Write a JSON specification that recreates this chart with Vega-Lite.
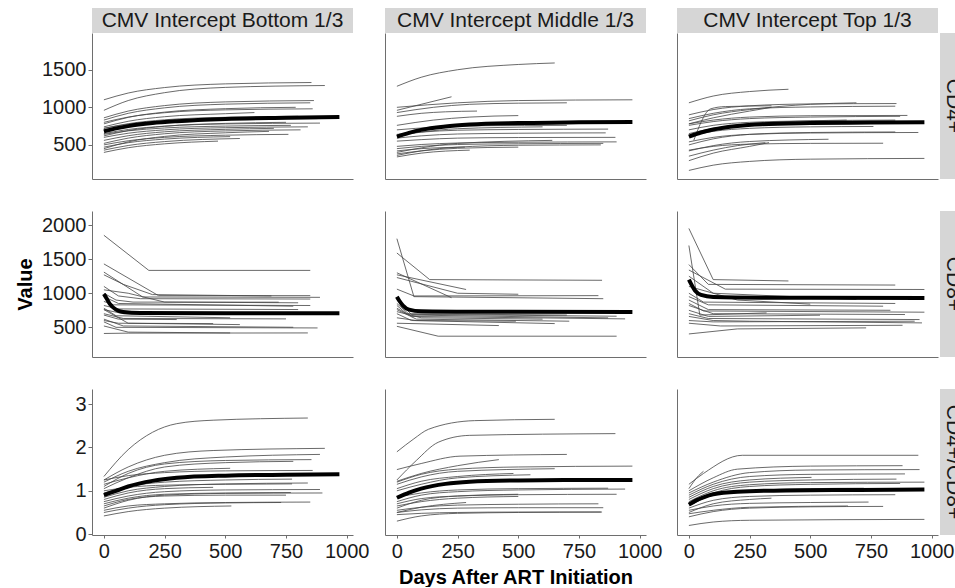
{
  "$schema": "https://vega.github.io/schema/vega-lite/v6.json",
  "autosize": {"type": "pad"},
  "padding": {"left": 15, "top": 8, "right": 0, "bottom": 0},
  "background": "white",
  "config": {
    "view": {"stroke": null},
    "axis": {
      "grid": false,
      "domainColor": "#6e6e6e",
      "domainWidth": 1,
      "tickColor": "#6e6e6e",
      "tickSize": 4,
      "labelPadding": 2,
      "labelColor": "#1a1a1a",
      "labelFont": "Liberation Sans",
      "labelFontSize": 20,
      "labelFlush": false,
      "labelOverlap": false,
      "format": "d",
      "titleFont": "Liberation Sans",
      "titleFontSize": 20,
      "titleFontWeight": "bold",
      "titleColor": "#000000",
      "titlePadding": 6
    }
  },
  "datasets": {
    "B_CD4": [
      {"id":1,"day":0,"value":1100},{"id":1,"day":100,"value":1190},{"id":1,"day":250,"value":1263},{"id":1,"day":500,"value":1312},{"id":1,"day":855,"value":1330},
      {"id":2,"day":0,"value":960},{"id":2,"day":100,"value":1090},{"id":2,"day":250,"value":1195},{"id":2,"day":500,"value":1265},{"id":2,"day":910,"value":1290},
      {"id":3,"day":0,"value":860},{"id":3,"day":100,"value":950},{"id":3,"day":250,"value":1023},{"id":3,"day":500,"value":1072},{"id":3,"day":865,"value":1090},
      {"id":4,"day":0,"value":830},{"id":4,"day":100,"value":920},{"id":4,"day":250,"value":993},{"id":4,"day":500,"value":1042},{"id":4,"day":850,"value":1060},
      {"id":5,"day":0,"value":800},{"id":5,"day":100,"value":870},{"id":5,"day":250,"value":928},{"id":5,"day":500,"value":966},{"id":5,"day":860,"value":980},
      {"id":6,"day":0,"value":780},{"id":6,"day":100,"value":866},{"id":6,"day":250,"value":936},{"id":6,"day":500,"value":982},{"id":6,"day":790,"value":1000},
      {"id":7,"day":0,"value":740},{"id":7,"day":100,"value":814},{"id":7,"day":250,"value":875},{"id":7,"day":500,"value":915},{"id":7,"day":620,"value":930},
      {"id":8,"day":0,"value":720},{"id":8,"day":100,"value":782},{"id":8,"day":250,"value":834},{"id":8,"day":500,"value":867},{"id":8,"day":800,"value":880},
      {"id":9,"day":0,"value":700},{"id":9,"day":100,"value":758},{"id":9,"day":250,"value":806},{"id":9,"day":500,"value":838},{"id":9,"day":880,"value":850},
      {"id":10,"day":0,"value":650},{"id":10,"day":100,"value":705},{"id":10,"day":250,"value":749},{"id":10,"day":500,"value":779},{"id":10,"day":890,"value":790},
      {"id":11,"day":0,"value":640},{"id":11,"day":100,"value":687},{"id":11,"day":250,"value":725},{"id":11,"day":500,"value":750},{"id":11,"day":770,"value":760},
      {"id":12,"day":0,"value":620},{"id":12,"day":100,"value":690},{"id":12,"day":250,"value":748},{"id":12,"day":500,"value":786},{"id":12,"day":750,"value":800},
      {"id":13,"day":0,"value":600},{"id":13,"day":100,"value":655},{"id":13,"day":250,"value":700},{"id":13,"day":500,"value":729},{"id":13,"day":840,"value":740},
      {"id":14,"day":0,"value":560},{"id":14,"day":100,"value":622},{"id":14,"day":250,"value":674},{"id":14,"day":500,"value":707},{"id":14,"day":700,"value":720},
      {"id":15,"day":0,"value":520},{"id":15,"day":100,"value":590},{"id":15,"day":250,"value":648},{"id":15,"day":500,"value":686},{"id":15,"day":810,"value":700},
      {"id":16,"day":0,"value":500},{"id":16,"day":100,"value":555},{"id":16,"day":250,"value":600},{"id":16,"day":500,"value":629},{"id":16,"day":760,"value":640},
      {"id":17,"day":0,"value":470},{"id":17,"day":100,"value":529},{"id":17,"day":250,"value":577},{"id":17,"day":520,"value":610},
      {"id":18,"day":0,"value":430},{"id":18,"day":100,"value":492},{"id":18,"day":250,"value":544},{"id":18,"day":560,"value":585},
      {"id":19,"day":0,"value":400},{"id":19,"day":100,"value":462},{"id":19,"day":250,"value":514},{"id":19,"day":470,"value":550},
      {"id":20,"day":0,"value":450},{"id":20,"day":100,"value":540},{"id":20,"day":250,"value":613},{"id":20,"day":500,"value":661},{"id":20,"day":680,"value":680},
      {"id":21,"day":0,"value":720},{"id":21,"day":100,"value":775},{"id":21,"day":250,"value":819},{"id":21,"day":500,"value":849},{"id":21,"day":650,"value":858}
    ],
    "B_CD4_mean": [
      {"day":0,"value":680},{"day":50,"value":720},{"day":100,"value":750},{"day":200,"value":790},{"day":300,"value":815},{"day":500,"value":845},{"day":750,"value":860},{"day":970,"value":870}
    ],
    "M_CD4": [
      {"id":1,"day":0,"value":1280},{"id":1,"day":100,"value":1400},{"id":1,"day":250,"value":1500},{"id":1,"day":500,"value":1570},{"id":1,"day":650,"value":1590},
      {"id":2,"day":0,"value":960},{"id":2,"day":100,"value":1040},{"id":2,"day":225,"value":1140},
      {"id":3,"day":0,"value":1000},{"id":3,"day":250,"value":1060},{"id":3,"day":500,"value":1090},{"id":3,"day":970,"value":1100},
      {"id":4,"day":0,"value":930},{"id":4,"day":150,"value":1000},{"id":4,"day":300,"value":1040},{"id":4,"day":500,"value":1055},{"id":4,"day":700,"value":1060},
      {"id":5,"day":0,"value":880},{"id":5,"day":100,"value":920},{"id":5,"day":200,"value":940},{"id":5,"day":330,"value":950},
      {"id":6,"day":0,"value":760},{"id":6,"day":150,"value":830},{"id":6,"day":300,"value":870},{"id":6,"day":500,"value":890},
      {"id":7,"day":0,"value":640},{"id":7,"day":100,"value":670},{"id":7,"day":250,"value":695},{"id":7,"day":500,"value":705},{"id":7,"day":870,"value":710},
      {"id":8,"day":0,"value":590},{"id":8,"day":100,"value":620},{"id":8,"day":250,"value":645},{"id":8,"day":500,"value":655},{"id":8,"day":860,"value":660},
      {"id":9,"day":0,"value":550},{"id":9,"day":100,"value":570},{"id":9,"day":250,"value":590},{"id":9,"day":500,"value":598},{"id":9,"day":900,"value":600},
      {"id":10,"day":0,"value":480},{"id":10,"day":100,"value":505},{"id":10,"day":250,"value":525},{"id":10,"day":500,"value":535},{"id":10,"day":905,"value":540},
      {"id":11,"day":0,"value":450},{"id":11,"day":100,"value":480},{"id":11,"day":250,"value":505},{"id":11,"day":500,"value":515},{"id":11,"day":850,"value":520},
      {"id":12,"day":0,"value":420},{"id":12,"day":100,"value":450},{"id":12,"day":280,"value":470},
      {"id":13,"day":0,"value":380},{"id":13,"day":100,"value":420},{"id":13,"day":250,"value":455},{"id":13,"day":500,"value":470},
      {"id":14,"day":0,"value":340},{"id":14,"day":100,"value":390},{"id":14,"day":300,"value":430},
      {"id":15,"day":0,"value":700},{"id":15,"day":150,"value":735},{"id":15,"day":350,"value":755},{"id":15,"day":700,"value":760},
      {"id":16,"day":0,"value":620},{"id":16,"day":100,"value":670},{"id":16,"day":250,"value":715},{"id":16,"day":600,"value":740},
      {"id":17,"day":0,"value":400},{"id":17,"day":100,"value":460},{"id":17,"day":250,"value":520},{"id":17,"day":640,"value":560},
      {"id":18,"day":0,"value":360},{"id":18,"day":100,"value":420},{"id":18,"day":250,"value":470},{"id":18,"day":500,"value":495},{"id":18,"day":840,"value":500}
    ],
    "M_CD4_mean": [
      {"day":0,"value":610},{"day":50,"value":660},{"day":100,"value":700},{"day":200,"value":745},{"day":300,"value":770},{"day":500,"value":790},{"day":750,"value":800},{"day":970,"value":805}
    ],
    "T_CD4": [
      {"id":1,"day":0,"value":1060},{"id":1,"day":100,"value":1150},{"id":1,"day":250,"value":1210},{"id":1,"day":410,"value":1240},
      {"id":2,"day":0,"value":900},{"id":2,"day":100,"value":970},{"id":2,"day":250,"value":1020},{"id":2,"day":500,"value":1045},{"id":2,"day":855,"value":1050},
      {"id":3,"day":0,"value":850},{"id":3,"day":100,"value":920},{"id":3,"day":250,"value":980},{"id":3,"day":500,"value":1005},{"id":3,"day":850,"value":1015},
      {"id":4,"day":20,"value":560},{"id":4,"day":90,"value":980},{"id":4,"day":150,"value":1010},{"id":4,"day":340,"value":1020},
      {"id":5,"day":0,"value":820},{"id":5,"day":100,"value":900},{"id":5,"day":250,"value":970},{"id":5,"day":500,"value":1040},{"id":5,"day":690,"value":1060},
      {"id":6,"day":0,"value":780},{"id":6,"day":100,"value":860},{"id":6,"day":250,"value":950},{"id":6,"day":340,"value":1000},
      {"id":7,"day":0,"value":780},{"id":7,"day":100,"value":830},{"id":7,"day":250,"value":870},{"id":7,"day":500,"value":888},{"id":7,"day":900,"value":892},
      {"id":8,"day":0,"value":760},{"id":8,"day":100,"value":810},{"id":8,"day":250,"value":850},{"id":8,"day":500,"value":870},{"id":8,"day":870,"value":880},
      {"id":9,"day":0,"value":700},{"id":9,"day":100,"value":760},{"id":9,"day":250,"value":800},{"id":9,"day":500,"value":820},{"id":9,"day":850,"value":830},
      {"id":10,"day":0,"value":650},{"id":10,"day":100,"value":720},{"id":10,"day":250,"value":780},{"id":10,"day":500,"value":820},{"id":10,"day":650,"value":830},
      {"id":11,"day":0,"value":540},{"id":11,"day":100,"value":600},{"id":11,"day":250,"value":640},{"id":11,"day":500,"value":658},{"id":11,"day":945,"value":665},
      {"id":12,"day":0,"value":500},{"id":12,"day":100,"value":580},{"id":12,"day":250,"value":640},{"id":12,"day":500,"value":665},{"id":12,"day":850,"value":672},
      {"id":13,"day":0,"value":430},{"id":13,"day":100,"value":480},{"id":13,"day":250,"value":510},{"id":13,"day":500,"value":520},{"id":13,"day":800,"value":522},
      {"id":14,"day":0,"value":420},{"id":14,"day":100,"value":490},{"id":14,"day":250,"value":545},{"id":14,"day":575,"value":575},
      {"id":15,"day":0,"value":350},{"id":15,"day":100,"value":430},{"id":15,"day":200,"value":490},{"id":15,"day":315,"value":530},
      {"id":16,"day":0,"value":290},{"id":16,"day":100,"value":390},{"id":16,"day":250,"value":480},{"id":16,"day":330,"value":530},
      {"id":17,"day":0,"value":160},{"id":17,"day":100,"value":230},{"id":17,"day":250,"value":280},{"id":17,"day":500,"value":310},{"id":17,"day":970,"value":320},
      {"id":18,"day":0,"value":620},{"id":18,"day":100,"value":680},{"id":18,"day":250,"value":720},{"id":18,"day":500,"value":740},{"id":18,"day":760,"value":745}
    ],
    "T_CD4_mean": [
      {"day":0,"value":610},{"day":50,"value":665},{"day":100,"value":705},{"day":200,"value":752},{"day":300,"value":775},{"day":500,"value":790},{"day":750,"value":797},{"day":970,"value":800}
    ],
    "B_CD8": [
      {"id":1,"day":0,"value":1850},{"id":1,"day":185,"value":1335},{"id":1,"day":850,"value":1335},
      {"id":2,"day":0,"value":1430},{"id":2,"day":225,"value":965},{"id":2,"day":850,"value":965},
      {"id":3,"day":0,"value":1310},{"id":3,"day":160,"value":945},{"id":3,"day":890,"value":940},
      {"id":4,"day":0,"value":1270},{"id":4,"day":80,"value":1130},{"id":4,"day":200,"value":980},{"id":4,"day":690,"value":960},
      {"id":5,"day":0,"value":1100},{"id":5,"day":60,"value":960},{"id":5,"day":150,"value":920},{"id":5,"day":850,"value":915},
      {"id":6,"day":0,"value":1000},{"id":6,"day":50,"value":900},{"id":6,"day":120,"value":870},{"id":6,"day":720,"value":869},
      {"id":7,"day":0,"value":950},{"id":7,"day":60,"value":850},{"id":7,"day":780,"value":810},
      {"id":8,"day":0,"value":880},{"id":8,"day":40,"value":830},{"id":8,"day":850,"value":820},
      {"id":9,"day":0,"value":820},{"id":9,"day":60,"value":770},{"id":9,"day":800,"value":761},
      {"id":10,"day":0,"value":760},{"id":10,"day":80,"value":700},{"id":10,"day":920,"value":688},
      {"id":11,"day":0,"value":780},{"id":11,"day":50,"value":670},{"id":11,"day":520,"value":640},
      {"id":12,"day":0,"value":700},{"id":12,"day":80,"value":630},{"id":12,"day":750,"value":624},
      {"id":13,"day":0,"value":600},{"id":13,"day":60,"value":560},{"id":13,"day":450,"value":555},
      {"id":14,"day":0,"value":760},{"id":14,"day":100,"value":560},{"id":14,"day":560,"value":540},
      {"id":15,"day":0,"value":580},{"id":15,"day":50,"value":500},{"id":15,"day":880,"value":491},
      {"id":16,"day":0,"value":620},{"id":16,"day":80,"value":520},{"id":16,"day":780,"value":501},
      {"id":17,"day":0,"value":520},{"id":17,"day":100,"value":430},{"id":17,"day":520,"value":418},
      {"id":18,"day":0,"value":410},{"id":18,"day":100,"value":415},{"id":18,"day":840,"value":418},
      {"id":19,"day":0,"value":680},{"id":19,"day":60,"value":620},{"id":19,"day":300,"value":614},
      {"id":20,"day":0,"value":1050},{"id":20,"day":100,"value":1000},{"id":20,"day":250,"value":870},{"id":20,"day":800,"value":860}
    ],
    "B_CD8_mean": [
      {"day":0,"value":990},{"day":10,"value":930},{"day":25,"value":840},{"day":50,"value":760},{"day":80,"value":725},{"day":150,"value":710},{"day":500,"value":705},{"day":970,"value":705}
    ],
    "M_CD8": [
      {"id":1,"day":0,"value":1800},{"id":1,"day":70,"value":950},{"id":1,"day":850,"value":920},
      {"id":2,"day":0,"value":1590},{"id":2,"day":135,"value":1200},{"id":2,"day":845,"value":1190},
      {"id":3,"day":0,"value":1300},{"id":3,"day":225,"value":935},
      {"id":4,"day":0,"value":1270},{"id":4,"day":285,"value":1055},
      {"id":5,"day":0,"value":1230},{"id":5,"day":250,"value":1000},{"id":5,"day":500,"value":985},
      {"id":6,"day":0,"value":1060},{"id":6,"day":70,"value":960},{"id":6,"day":830,"value":965},
      {"id":7,"day":0,"value":900},{"id":7,"day":60,"value":690},{"id":7,"day":905,"value":663},
      {"id":8,"day":0,"value":850},{"id":8,"day":60,"value":660},{"id":8,"day":940,"value":624},
      {"id":9,"day":0,"value":780},{"id":9,"day":50,"value":680},{"id":9,"day":870,"value":639},
      {"id":10,"day":0,"value":760},{"id":10,"day":80,"value":620},{"id":10,"day":710,"value":590},
      {"id":11,"day":0,"value":700},{"id":11,"day":60,"value":600},{"id":11,"day":650,"value":555},
      {"id":12,"day":0,"value":560},{"id":12,"day":420,"value":526},
      {"id":13,"day":0,"value":640},{"id":13,"day":80,"value":600},{"id":13,"day":490,"value":590},
      {"id":14,"day":0,"value":515},{"id":14,"day":170,"value":370},{"id":14,"day":905,"value":370},
      {"id":15,"day":0,"value":820},{"id":15,"day":40,"value":700},{"id":15,"day":700,"value":680},
      {"id":16,"day":0,"value":730},{"id":16,"day":100,"value":640},{"id":16,"day":600,"value":620}
    ],
    "M_CD8_mean": [
      {"day":0,"value":950},{"day":10,"value":890},{"day":25,"value":820},{"day":50,"value":760},{"day":100,"value":735},{"day":300,"value":728},{"day":970,"value":725}
    ],
    "T_CD8": [
      {"id":1,"day":0,"value":1950},{"id":1,"day":100,"value":1200},{"id":1,"day":410,"value":1180},
      {"id":2,"day":0,"value":1700},{"id":2,"day":45,"value":680},{"id":2,"day":320,"value":712},
      {"id":3,"day":0,"value":1420},{"id":3,"day":80,"value":1130},{"id":3,"day":850,"value":1120},
      {"id":4,"day":0,"value":1340},{"id":4,"day":150,"value":1060},{"id":4,"day":970,"value":1055},
      {"id":5,"day":0,"value":1250},{"id":5,"day":100,"value":1000},{"id":5,"day":690,"value":910},
      {"id":6,"day":0,"value":1100},{"id":6,"day":200,"value":900},{"id":6,"day":500,"value":840},
      {"id":7,"day":0,"value":1000},{"id":7,"day":60,"value":870},{"id":7,"day":850,"value":850},
      {"id":8,"day":0,"value":950},{"id":8,"day":80,"value":830},{"id":8,"day":800,"value":810},
      {"id":9,"day":0,"value":900},{"id":9,"day":80,"value":760},{"id":9,"day":830,"value":750},
      {"id":10,"day":0,"value":850},{"id":10,"day":60,"value":740},{"id":10,"day":970,"value":722},
      {"id":11,"day":0,"value":820},{"id":11,"day":100,"value":700},{"id":11,"day":890,"value":688},
      {"id":12,"day":0,"value":750},{"id":12,"day":80,"value":660},{"id":12,"day":540,"value":678},
      {"id":13,"day":0,"value":700},{"id":13,"day":80,"value":630},{"id":13,"day":950,"value":614},
      {"id":14,"day":0,"value":660},{"id":14,"day":100,"value":600},{"id":14,"day":250,"value":590},{"id":14,"day":960,"value":565},
      {"id":15,"day":0,"value":403},{"id":15,"day":200,"value":477},{"id":15,"day":730,"value":492},
      {"id":16,"day":0,"value":600},{"id":16,"day":100,"value":580},{"id":16,"day":930,"value":590},
      {"id":17,"day":0,"value":560},{"id":17,"day":130,"value":520},{"id":17,"day":880,"value":530}
    ],
    "T_CD8_mean": [
      {"day":0,"value":1200},{"day":10,"value":1130},{"day":25,"value":1040},{"day":50,"value":975},{"day":100,"value":945},{"day":300,"value":935},{"day":970,"value":930}
    ],
    "B_R": [
      {"id":1,"day":0,"value":1.33},{"id":1,"day":100,"value":1.95},{"id":1,"day":200,"value":2.35},{"id":1,"day":300,"value":2.55},{"id":1,"day":450,"value":2.63},{"id":1,"day":840,"value":2.68},
      {"id":2,"day":0,"value":1.25},{"id":2,"day":100,"value":1.55},{"id":2,"day":250,"value":1.82},{"id":2,"day":450,"value":1.93},{"id":2,"day":910,"value":1.98},
      {"id":3,"day":0,"value":1.2},{"id":3,"day":100,"value":1.45},{"id":3,"day":250,"value":1.65},{"id":3,"day":500,"value":1.78},{"id":3,"day":890,"value":1.84},
      {"id":4,"day":0,"value":1.1},{"id":4,"day":100,"value":1.4},{"id":4,"day":250,"value":1.62},{"id":4,"day":500,"value":1.7},{"id":4,"day":855,"value":1.72},
      {"id":5,"day":0,"value":1.05},{"id":5,"day":100,"value":1.3},{"id":5,"day":250,"value":1.55},{"id":5,"day":500,"value":1.65},{"id":5,"day":780,"value":1.68},
      {"id":6,"day":0,"value":1.15},{"id":6,"day":100,"value":1.3},{"id":6,"day":250,"value":1.45},{"id":6,"day":520,"value":1.52},
      {"id":7,"day":0,"value":1.25},{"id":7,"day":100,"value":1.35},{"id":7,"day":250,"value":1.42},{"id":7,"day":500,"value":1.46},{"id":7,"day":860,"value":1.47},
      {"id":8,"day":0,"value":0.95},{"id":8,"day":100,"value":1.1},{"id":8,"day":250,"value":1.2},{"id":8,"day":500,"value":1.25},{"id":8,"day":775,"value":1.27},
      {"id":9,"day":0,"value":0.85},{"id":9,"day":100,"value":1.0},{"id":9,"day":250,"value":1.1},{"id":9,"day":500,"value":1.16},{"id":9,"day":840,"value":1.18},
      {"id":10,"day":0,"value":1.0},{"id":10,"day":100,"value":1.08},{"id":10,"day":250,"value":1.13},{"id":10,"day":500,"value":1.15},{"id":10,"day":775,"value":1.16},
      {"id":11,"day":0,"value":0.75},{"id":11,"day":100,"value":0.88},{"id":11,"day":250,"value":0.98},{"id":11,"day":500,"value":1.02},{"id":11,"day":890,"value":1.03},
      {"id":12,"day":0,"value":0.8},{"id":12,"day":100,"value":0.95},{"id":12,"day":250,"value":1.05},{"id":12,"day":450,"value":1.08},
      {"id":13,"day":0,"value":0.7},{"id":13,"day":100,"value":0.83},{"id":13,"day":250,"value":0.92},{"id":13,"day":500,"value":0.95},{"id":13,"day":770,"value":0.96},
      {"id":14,"day":0,"value":0.6},{"id":14,"day":100,"value":0.78},{"id":14,"day":250,"value":0.9},{"id":14,"day":500,"value":0.94},{"id":14,"day":900,"value":0.95},
      {"id":15,"day":0,"value":0.5},{"id":15,"day":100,"value":0.6},{"id":15,"day":250,"value":0.68},{"id":15,"day":500,"value":0.72},{"id":15,"day":730,"value":0.73},
      {"id":16,"day":0,"value":0.55},{"id":16,"day":100,"value":0.65},{"id":16,"day":250,"value":0.7},{"id":16,"day":500,"value":0.73},{"id":16,"day":850,"value":0.74},
      {"id":17,"day":0,"value":0.42},{"id":17,"day":100,"value":0.52},{"id":17,"day":250,"value":0.6},{"id":17,"day":525,"value":0.65},
      {"id":18,"day":0,"value":0.65},{"id":18,"day":100,"value":0.8},{"id":18,"day":250,"value":0.88},{"id":18,"day":500,"value":0.9},{"id":18,"day":750,"value":0.9}
    ],
    "B_R_mean": [
      {"day":0,"value":0.9},{"day":50,"value":1.0},{"day":100,"value":1.1},{"day":200,"value":1.23},{"day":300,"value":1.3},{"day":500,"value":1.35},{"day":750,"value":1.37},{"day":970,"value":1.38}
    ],
    "M_R": [
      {"id":1,"day":0,"value":1.9},{"id":1,"day":70,"value":2.2},{"id":1,"day":130,"value":2.42},{"id":1,"day":320,"value":2.62},{"id":1,"day":650,"value":2.65},
      {"id":2,"day":0,"value":1.25},{"id":2,"day":80,"value":1.7},{"id":2,"day":170,"value":2.12},{"id":2,"day":300,"value":2.28},{"id":2,"day":900,"value":2.32},
      {"id":3,"day":0,"value":1.49},{"id":3,"day":100,"value":1.63},{"id":3,"day":260,"value":1.8},{"id":3,"day":700,"value":1.84},
      {"id":4,"day":0,"value":1.22},{"id":4,"day":100,"value":1.4},{"id":4,"day":250,"value":1.58},{"id":4,"day":420,"value":1.72},
      {"id":5,"day":0,"value":1.2},{"id":5,"day":100,"value":1.38},{"id":5,"day":250,"value":1.5},{"id":5,"day":500,"value":1.55},{"id":5,"day":970,"value":1.57},
      {"id":6,"day":0,"value":1.15},{"id":6,"day":100,"value":1.32},{"id":6,"day":250,"value":1.45},{"id":6,"day":650,"value":1.51},
      {"id":7,"day":0,"value":1.05},{"id":7,"day":100,"value":1.22},{"id":7,"day":250,"value":1.33},{"id":7,"day":480,"value":1.4},
      {"id":8,"day":0,"value":1.0},{"id":8,"day":100,"value":1.15},{"id":8,"day":250,"value":1.3},{"id":8,"day":550,"value":1.37},
      {"id":9,"day":0,"value":0.85},{"id":9,"day":100,"value":0.95},{"id":9,"day":250,"value":1.02},{"id":9,"day":500,"value":1.05},{"id":9,"day":870,"value":1.06},
      {"id":10,"day":0,"value":0.75},{"id":10,"day":100,"value":0.9},{"id":10,"day":250,"value":0.98},{"id":10,"day":500,"value":1.02},{"id":10,"day":940,"value":1.04},
      {"id":11,"day":0,"value":0.7},{"id":11,"day":100,"value":0.82},{"id":11,"day":250,"value":0.88},{"id":11,"day":500,"value":0.91},{"id":11,"day":905,"value":0.92},
      {"id":12,"day":0,"value":0.65},{"id":12,"day":100,"value":0.75},{"id":12,"day":250,"value":0.83},{"id":12,"day":500,"value":0.87},
      {"id":13,"day":0,"value":0.55},{"id":13,"day":100,"value":0.62},{"id":13,"day":250,"value":0.67},{"id":13,"day":500,"value":0.69},{"id":13,"day":830,"value":0.7},
      {"id":14,"day":0,"value":0.5},{"id":14,"day":100,"value":0.56},{"id":14,"day":250,"value":0.6},{"id":14,"day":500,"value":0.61},{"id":14,"day":850,"value":0.61},
      {"id":15,"day":0,"value":0.45},{"id":15,"day":100,"value":0.48},{"id":15,"day":250,"value":0.5},{"id":15,"day":500,"value":0.51},{"id":15,"day":845,"value":0.51},
      {"id":16,"day":0,"value":0.5},{"id":16,"day":100,"value":0.62},{"id":16,"day":285,"value":0.73},
      {"id":17,"day":0,"value":0.3},{"id":17,"day":100,"value":0.42},{"id":17,"day":250,"value":0.48},{"id":17,"day":500,"value":0.5},{"id":17,"day":840,"value":0.51},
      {"id":18,"day":0,"value":0.6},{"id":18,"day":100,"value":0.78},{"id":18,"day":250,"value":0.88},{"id":18,"day":500,"value":0.92}
    ],
    "M_R_mean": [
      {"day":0,"value":0.84},{"day":50,"value":0.96},{"day":100,"value":1.05},{"day":200,"value":1.16},{"day":300,"value":1.21},{"day":500,"value":1.24},{"day":750,"value":1.25},{"day":970,"value":1.25}
    ],
    "T_R": [
      {"id":1,"day":0,"value":1.15},{"id":1,"day":60,"value":1.4},{"id":1,"day":220,"value":1.82},{"id":1,"day":945,"value":1.82},
      {"id":2,"day":0,"value":1.0},{"id":2,"day":100,"value":1.3},{"id":2,"day":200,"value":1.5},{"id":2,"day":500,"value":1.57},{"id":2,"day":880,"value":1.58},
      {"id":3,"day":0,"value":0.95},{"id":3,"day":100,"value":1.2},{"id":3,"day":250,"value":1.42},{"id":3,"day":500,"value":1.48},{"id":3,"day":950,"value":1.49},
      {"id":4,"day":0,"value":0.9},{"id":4,"day":100,"value":1.15},{"id":4,"day":250,"value":1.33},{"id":4,"day":500,"value":1.38},{"id":4,"day":890,"value":1.39},
      {"id":5,"day":0,"value":0.85},{"id":5,"day":100,"value":1.1},{"id":5,"day":250,"value":1.25},{"id":5,"day":505,"value":1.31},
      {"id":6,"day":0,"value":0.8},{"id":6,"day":100,"value":1.05},{"id":6,"day":250,"value":1.2},{"id":6,"day":500,"value":1.25},{"id":6,"day":855,"value":1.27},
      {"id":7,"day":0,"value":0.75},{"id":7,"day":100,"value":1.0},{"id":7,"day":250,"value":1.14},{"id":7,"day":500,"value":1.19},{"id":7,"day":970,"value":1.2},
      {"id":8,"day":0,"value":0.7},{"id":8,"day":100,"value":0.95},{"id":8,"day":250,"value":1.1},{"id":8,"day":500,"value":1.15},{"id":8,"day":870,"value":1.17},
      {"id":9,"day":0,"value":0.6},{"id":9,"day":100,"value":0.78},{"id":9,"day":250,"value":0.87},{"id":9,"day":500,"value":0.9},{"id":9,"day":850,"value":0.91},
      {"id":10,"day":0,"value":0.5},{"id":10,"day":100,"value":0.7},{"id":10,"day":250,"value":0.8},{"id":10,"day":340,"value":0.83},
      {"id":11,"day":0,"value":0.55},{"id":11,"day":100,"value":0.65},{"id":11,"day":250,"value":0.71},{"id":11,"day":500,"value":0.73},{"id":11,"day":740,"value":0.74},
      {"id":12,"day":0,"value":0.47},{"id":12,"day":100,"value":0.55},{"id":12,"day":250,"value":0.62},{"id":12,"day":655,"value":0.65},
      {"id":13,"day":0,"value":0.4},{"id":13,"day":100,"value":0.52},{"id":13,"day":250,"value":0.6},{"id":13,"day":500,"value":0.63},{"id":13,"day":800,"value":0.64},
      {"id":14,"day":0,"value":0.2},{"id":14,"day":100,"value":0.28},{"id":14,"day":250,"value":0.32},{"id":14,"day":970,"value":0.34},
      {"id":15,"day":0,"value":1.05},{"id":15,"day":40,"value":1.35},{"id":15,"day":60,"value":1.45},
      {"id":16,"day":0,"value":0.65},{"id":16,"day":100,"value":0.9},{"id":16,"day":250,"value":1.0},{"id":16,"day":500,"value":1.05},{"id":16,"day":720,"value":1.06}
    ],
    "T_R_mean": [
      {"day":0,"value":0.68},{"day":30,"value":0.78},{"day":60,"value":0.85},{"day":100,"value":0.92},{"day":200,"value":0.98},{"day":400,"value":1.01},{"day":700,"value":1.02},{"day":970,"value":1.03}
    ]
  },
  "concat": [
    {"width":261,"height":25,"view":{"fill":"#d6d6d6"},"data":{"values":[{"label":"CMV Intercept Bottom 1/3"}]},"mark":{"type":"text","font":"Liberation Sans","fontSize":21,"color":"#1a1a1a"},"encoding":{"text":{"field":"label","type":"nominal"}}},
    {"width":32,"height":1,"data":{"values":[]},"mark":"point"},
    {"width":261,"height":25,"view":{"fill":"#d6d6d6"},"data":{"values":[{"label":"CMV Intercept Middle 1/3"}]},"mark":{"type":"text","font":"Liberation Sans","fontSize":21,"color":"#1a1a1a"},"encoding":{"text":{"field":"label","type":"nominal"}}},
    {"width":31,"height":1,"data":{"values":[]},"mark":"point"},
    {"width":261,"height":25,"view":{"fill":"#d6d6d6"},"data":{"values":[{"label":"CMV Intercept Top 1/3"}]},"mark":{"type":"text","font":"Liberation Sans","fontSize":21,"color":"#1a1a1a"},"encoding":{"text":{"field":"label","type":"nominal"}}},
    {"width":2,"height":1,"data":{"values":[]},"mark":"point"},
    {"width":1,"height":1,"data":{"values":[]},"mark":"point"},

    {"width":261,"height":146,
     "encoding":{"x":{"field":"day","type":"quantitative","scale":{"domain":[-49,1026],"nice":false,"zero":false},"axis":{"labels":false,"ticks":false,"title":null}},
                 "y":{"field":"value","type":"quantitative","scale":{"domain":[46,1989],"nice":false,"zero":false},"axis":{"values":[500,1000,1500],"title":null}}},
     "layer":[
       {"data":{"name":"B_CD4"},"mark":{"type":"line","color":"#454545","strokeWidth":1,"opacity":0.8,"interpolate":"monotone"},"encoding":{"detail":{"field":"id","type":"nominal"}}},
       {"data":{"name":"B_CD4_mean"},"mark":{"type":"line","color":"#000000","strokeWidth":4,"interpolate":"monotone"},"encoding":{}}
     ]},
    {"width":32,"height":1,"data":{"values":[]},"mark":"point"},
    {"width":261,"height":146,
     "encoding":{"x":{"field":"day","type":"quantitative","scale":{"domain":[-49,1026],"nice":false,"zero":false},"axis":{"labels":false,"ticks":false,"title":null}},
                 "y":{"field":"value","type":"quantitative","scale":{"domain":[46,1989],"nice":false,"zero":false},"axis":{"labels":false,"ticks":false,"title":null}}},
     "layer":[
       {"data":{"name":"M_CD4"},"mark":{"type":"line","color":"#454545","strokeWidth":1,"opacity":0.8,"interpolate":"monotone"},"encoding":{"detail":{"field":"id","type":"nominal"}}},
       {"data":{"name":"M_CD4_mean"},"mark":{"type":"line","color":"#000000","strokeWidth":4,"interpolate":"monotone"},"encoding":{}}
     ]},
    {"width":31,"height":1,"data":{"values":[]},"mark":"point"},
    {"width":261,"height":146,
     "encoding":{"x":{"field":"day","type":"quantitative","scale":{"domain":[-49,1026],"nice":false,"zero":false},"axis":{"labels":false,"ticks":false,"title":null}},
                 "y":{"field":"value","type":"quantitative","scale":{"domain":[46,1989],"nice":false,"zero":false},"axis":{"labels":false,"ticks":false,"title":null}}},
     "layer":[
       {"data":{"name":"T_CD4"},"mark":{"type":"line","color":"#454545","strokeWidth":1,"opacity":0.8,"interpolate":"monotone"},"encoding":{"detail":{"field":"id","type":"nominal"}}},
       {"data":{"name":"T_CD4_mean"},"mark":{"type":"line","color":"#000000","strokeWidth":4,"interpolate":"monotone"},"encoding":{}}
     ]},
    {"width":2,"height":1,"data":{"values":[]},"mark":"point"},
    {"width":15,"height":146,"view":{"fill":"#d6d6d6"},"data":{"values":[{"label":"CD4+"}]},"mark":{"type":"text","angle":90,"dy":-5,"clip":true,"font":"Liberation Sans","fontSize":21,"color":"#1a1a1a"},"encoding":{"text":{"field":"label","type":"nominal"}}},

    {"width":1,"height":32,"data":{"values":[]},"mark":"point"},
    {"width":32,"height":32,"data":{"values":[]},"mark":"point"},
    {"width":1,"height":32,"data":{"values":[]},"mark":"point"},
    {"width":31,"height":32,"data":{"values":[]},"mark":"point"},
    {"width":1,"height":32,"data":{"values":[]},"mark":"point"},
    {"width":2,"height":32,"data":{"values":[]},"mark":"point"},
    {"width":1,"height":32,"data":{"values":[]},"mark":"point"},

    {"width":261,"height":146,
     "encoding":{"x":{"field":"day","type":"quantitative","scale":{"domain":[-49,1026],"nice":false,"zero":false},"axis":{"labels":false,"ticks":false,"title":null}},
                 "y":{"field":"value","type":"quantitative","scale":{"domain":[65,2206],"nice":false,"zero":false},"axis":{"values":[500,1000,1500,2000],"title":"Value"}}},
     "layer":[
       {"data":{"name":"B_CD8"},"mark":{"type":"line","color":"#454545","strokeWidth":1,"opacity":0.8},"encoding":{"detail":{"field":"id","type":"nominal"}}},
       {"data":{"name":"B_CD8_mean"},"mark":{"type":"line","color":"#000000","strokeWidth":4,"interpolate":"monotone"},"encoding":{}}
     ]},
    {"width":32,"height":1,"data":{"values":[]},"mark":"point"},
    {"width":261,"height":146,
     "encoding":{"x":{"field":"day","type":"quantitative","scale":{"domain":[-49,1026],"nice":false,"zero":false},"axis":{"labels":false,"ticks":false,"title":null}},
                 "y":{"field":"value","type":"quantitative","scale":{"domain":[65,2206],"nice":false,"zero":false},"axis":{"labels":false,"ticks":false,"title":null}}},
     "layer":[
       {"data":{"name":"M_CD8"},"mark":{"type":"line","color":"#454545","strokeWidth":1,"opacity":0.8},"encoding":{"detail":{"field":"id","type":"nominal"}}},
       {"data":{"name":"M_CD8_mean"},"mark":{"type":"line","color":"#000000","strokeWidth":4,"interpolate":"monotone"},"encoding":{}}
     ]},
    {"width":31,"height":1,"data":{"values":[]},"mark":"point"},
    {"width":261,"height":146,
     "encoding":{"x":{"field":"day","type":"quantitative","scale":{"domain":[-49,1026],"nice":false,"zero":false},"axis":{"labels":false,"ticks":false,"title":null}},
                 "y":{"field":"value","type":"quantitative","scale":{"domain":[65,2206],"nice":false,"zero":false},"axis":{"labels":false,"ticks":false,"title":null}}},
     "layer":[
       {"data":{"name":"T_CD8"},"mark":{"type":"line","color":"#454545","strokeWidth":1,"opacity":0.8},"encoding":{"detail":{"field":"id","type":"nominal"}}},
       {"data":{"name":"T_CD8_mean"},"mark":{"type":"line","color":"#000000","strokeWidth":4,"interpolate":"monotone"},"encoding":{}}
     ]},
    {"width":2,"height":1,"data":{"values":[]},"mark":"point"},
    {"width":15,"height":146,"view":{"fill":"#d6d6d6"},"data":{"values":[{"label":"CD8+"}]},"mark":{"type":"text","angle":90,"dy":-5,"clip":true,"font":"Liberation Sans","fontSize":21,"color":"#1a1a1a"},"encoding":{"text":{"field":"label","type":"nominal"}}},

    {"width":1,"height":32,"data":{"values":[]},"mark":"point"},
    {"width":32,"height":32,"data":{"values":[]},"mark":"point"},
    {"width":1,"height":32,"data":{"values":[]},"mark":"point"},
    {"width":31,"height":32,"data":{"values":[]},"mark":"point"},
    {"width":1,"height":32,"data":{"values":[]},"mark":"point"},
    {"width":2,"height":32,"data":{"values":[]},"mark":"point"},
    {"width":1,"height":32,"data":{"values":[]},"mark":"point"},

    {"width":261,"height":146,
     "encoding":{"x":{"field":"day","type":"quantitative","scale":{"domain":[-49,1026],"nice":false,"zero":false},"axis":{"values":[0,250,500,750,1000],"title":null,"tickSize":3,"labelPadding":3}},
                 "y":{"field":"value","type":"quantitative","scale":{"domain":[-0.02,3.35],"nice":false,"zero":false},"axis":{"values":[0,1,2,3],"title":null}}},
     "layer":[
       {"data":{"name":"B_R"},"mark":{"type":"line","color":"#454545","strokeWidth":1,"opacity":0.8,"interpolate":"monotone"},"encoding":{"detail":{"field":"id","type":"nominal"}}},
       {"data":{"name":"B_R_mean"},"mark":{"type":"line","color":"#000000","strokeWidth":4,"interpolate":"monotone"},"encoding":{}}
     ]},
    {"width":32,"height":1,"data":{"values":[]},"mark":"point"},
    {"width":261,"height":146,
     "encoding":{"x":{"field":"day","type":"quantitative","scale":{"domain":[-49,1026],"nice":false,"zero":false},"axis":{"values":[0,250,500,750,1000],"title":"Days After ART Initiation","tickSize":3,"labelPadding":3}},
                 "y":{"field":"value","type":"quantitative","scale":{"domain":[-0.02,3.35],"nice":false,"zero":false},"axis":{"labels":false,"ticks":false,"title":null}}},
     "layer":[
       {"data":{"name":"M_R"},"mark":{"type":"line","color":"#454545","strokeWidth":1,"opacity":0.8,"interpolate":"monotone"},"encoding":{"detail":{"field":"id","type":"nominal"}}},
       {"data":{"name":"M_R_mean"},"mark":{"type":"line","color":"#000000","strokeWidth":4,"interpolate":"monotone"},"encoding":{}}
     ]},
    {"width":31,"height":1,"data":{"values":[]},"mark":"point"},
    {"width":261,"height":146,
     "encoding":{"x":{"field":"day","type":"quantitative","scale":{"domain":[-49,1026],"nice":false,"zero":false},"axis":{"values":[0,250,500,750,1000],"title":null,"tickSize":3,"labelPadding":3}},
                 "y":{"field":"value","type":"quantitative","scale":{"domain":[-0.02,3.35],"nice":false,"zero":false},"axis":{"labels":false,"ticks":false,"title":null}}},
     "layer":[
       {"data":{"name":"T_R"},"mark":{"type":"line","color":"#454545","strokeWidth":1,"opacity":0.8,"interpolate":"monotone"},"encoding":{"detail":{"field":"id","type":"nominal"}}},
       {"data":{"name":"T_R_mean"},"mark":{"type":"line","color":"#000000","strokeWidth":4,"interpolate":"monotone"},"encoding":{}}
     ]},
    {"width":2,"height":1,"data":{"values":[]},"mark":"point"},
    {"width":15,"height":146,"view":{"fill":"#d6d6d6"},"data":{"values":[{"label":"CD4+/CD8+"}]},"mark":{"type":"text","angle":90,"dy":-5,"clip":true,"font":"Liberation Sans","fontSize":21,"color":"#1a1a1a"},"encoding":{"text":{"field":"label","type":"nominal"}}}
  ],
  "columns": 7,
  "spacing": 0,
  "align": "each",
  "bounds": "flush"
}
